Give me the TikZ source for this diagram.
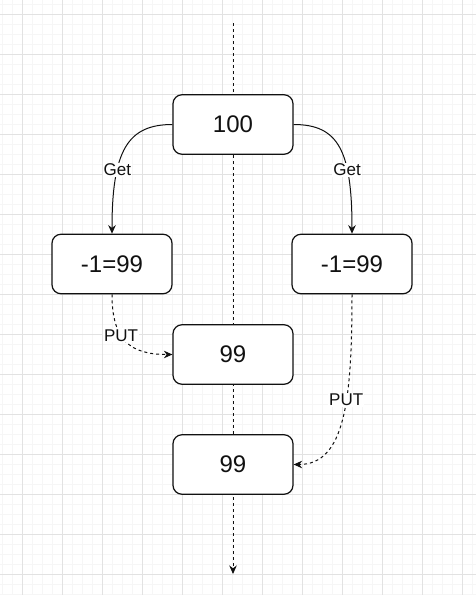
\documentclass[tikz,border=0pt]{standalone}
\usepackage{fontspec}
\setmainfont{Liberation Sans}
\usetikzlibrary{arrows.meta}
\definecolor{gridminor}{HTML}{F6F6F6}
\definecolor{gridmajor}{HTML}{E2E2E2}
\definecolor{ink}{HTML}{111111}
\begin{document}
\begin{tikzpicture}[x=1pt,y=-1pt,
  valbox/.style={draw=ink, line width=1.2pt, rounded corners=9pt, fill=white,
    minimum width=120pt, minimum height=59.5pt, inner sep=0pt, text=ink,
    font=\fontsize{24}{28}\selectfont},
  flow/.style={draw=ink, line width=1pt, -{Stealth[length=8.5pt,width=7.5pt]}},
  putflow/.style={flow, dash pattern=on 3pt off 3pt},
  lbl/.style={fill=white, inner sep=1pt, text=ink, font=\fontsize{17}{20}\selectfont}]

% canvas and background grid
\useasboundingbox (0,0) rectangle (476,595);
\fill[white] (0,0) rectangle (476,595);
\foreach \gx in {2,12,...,472} \draw[gridminor, line width=0.8pt] (\gx,0) -- (\gx,595);
\foreach \gy in {4,14,...,594} \draw[gridminor, line width=0.8pt] (0,\gy) -- (476,\gy);
\foreach \gx in {22,62,...,462} \draw[gridmajor, line width=0.8pt] (\gx,0) -- (\gx,595);
\foreach \gy in {14,54,...,574} \draw[gridmajor, line width=0.8pt] (0,\gy) -- (476,\gy);

% time axis behind the value boxes
\coordinate (axistop) at (233,23);
\coordinate (axisend) at (233,574);
\draw[putflow] (axistop) -- (axisend);

% value boxes
\node[valbox] (start) at (233,124.5) {100};
\node[valbox] (decl) at (112,264) {-1=99};
\node[valbox] (decr) at (352,264) {-1=99};
\node[valbox] (putone) at (233,354.5) {99};
\node[valbox] (puttwo) at (233,464.5) {99};

% reads
\draw[flow] (start.west) .. controls (128,124.5) and (112,150) .. node[lbl, pos=0.68] {Get} (decl.north);
\draw[flow] (start.east) .. controls (338,124.5) and (352,150) .. node[lbl, pos=0.68] {Get} (decr.north);

% writes
\draw[putflow] (decl.south) .. controls (112,340) and (130,354.5) .. node[lbl, pos=0.4] {PUT} (putone.west);
\draw[putflow] (decr.south) .. controls (352,400) and (345,464.5) .. node[lbl, pos=0.4] {PUT} (puttwo.east);
\end{tikzpicture}
\end{document}
